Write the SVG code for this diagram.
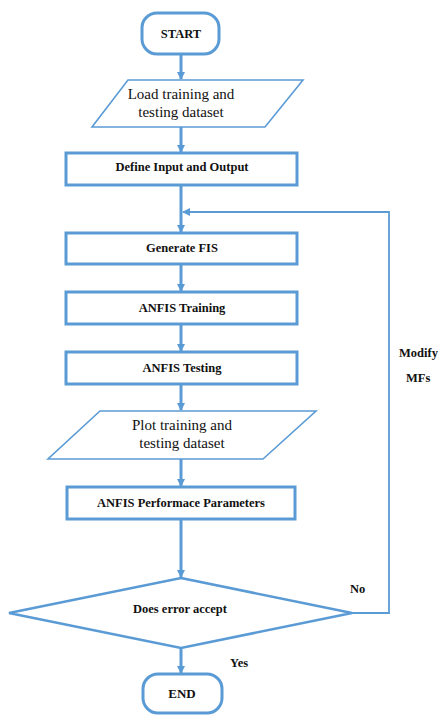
<svg xmlns="http://www.w3.org/2000/svg" width="447" height="715" viewBox="0 0 447 715">
  <style>
    .box { fill: #ffffff; stroke: #5b9bd5; stroke-width: 3; }
    .io { fill: #ffffff; stroke: #5b9bd5; stroke-width: 1.6; }
    .term { fill: #ffffff; stroke: #5b9bd5; stroke-width: 3; }
    .dec { fill: #ffffff; stroke: #5b9bd5; stroke-width: 2.5; }
    .flow { fill: none; stroke: #5b9bd5; stroke-width: 3; }
    .thin { fill: none; stroke: #5b9bd5; stroke-width: 1.8; }
    text { font-family: 'Liberation Serif', 'DejaVu Serif', 'Times New Roman', serif; fill: #111111; text-anchor: middle; }
    .lbl { font-size: 12.5px; font-weight: bold; }
    .side { font-size: 12.5px; font-weight: bold; text-anchor: start; }
    .reg { font-size: 15px; }
  </style>
  <defs>
    <marker id="arrow" markerWidth="8" markerHeight="8" refX="7" refY="4" orient="auto" markerUnits="userSpaceOnUse">
      <path d="M0,0 L8,4 L0,8 z" fill="#5b9bd5"/>
    </marker>
  </defs>

  <rect width="447" height="715" fill="#ffffff"/>

  <!-- connectors -->
  <g id="connectors">
    <line class="flow" x1="181" y1="54" x2="181" y2="79" marker-end="url(#arrow)"/>
    <line class="flow" x1="181" y1="127" x2="181" y2="152" marker-end="url(#arrow)"/>
    <line class="flow" x1="181" y1="185" x2="181" y2="232" marker-end="url(#arrow)"/>
    <line class="flow" x1="181" y1="264" x2="181" y2="291" marker-end="url(#arrow)"/>
    <line class="flow" x1="181" y1="324" x2="181" y2="351" marker-end="url(#arrow)"/>
    <line class="flow" x1="181" y1="384" x2="181" y2="410" marker-end="url(#arrow)"/>
    <line class="flow" x1="181" y1="459" x2="181" y2="486" marker-end="url(#arrow)"/>
    <line class="flow" x1="181" y1="519" x2="181" y2="577" marker-end="url(#arrow)"/>
    <line class="flow" x1="181" y1="648" x2="181" y2="673" marker-end="url(#arrow)"/>
    <!-- loop back: No branch -->
    <polyline class="thin" points="352,613 389,613 389,212 183,212" marker-end="url(#arrow)"/>
    <text class="side" x="350" y="593">No</text>
    <text class="side" x="230" y="667">Yes</text>
    <text class="side" x="399" y="357">Modify</text>
    <text class="side" x="406" y="382">MFs</text>
  </g>

  <g id="start">
    <rect class="term" x="142" y="13" width="77" height="41" rx="15" ry="15"/>
    <text class="lbl" x="181" y="38">START</text>
  </g>

  <g id="load-data">
    <polygon class="io" points="128,80 303,80 265,127 92,127"/>
    <text class="reg" x="181" y="99">Load training and</text>
    <text class="reg" x="181" y="117">testing dataset</text>
  </g>

  <g id="define-io">
    <rect class="box" x="66" y="153" width="231" height="32"/>
    <text class="lbl" x="182" y="171">Define Input and Output</text>
  </g>

  <g id="generate-fis">
    <rect class="box" x="66" y="233" width="231" height="31"/>
    <text class="lbl" x="182" y="252">Generate FIS</text>
  </g>

  <g id="anfis-training">
    <rect class="box" x="66" y="292" width="231" height="32"/>
    <text class="lbl" x="182" y="312">ANFIS Training</text>
  </g>

  <g id="anfis-testing">
    <rect class="box" x="66" y="352" width="231" height="32"/>
    <text class="lbl" x="182" y="372">ANFIS Testing</text>
  </g>

  <g id="plot-data">
    <polygon class="io" points="100,411 316,411 263,459 48,459"/>
    <text class="reg" x="182" y="430">Plot training and</text>
    <text class="reg" x="182" y="448">testing dataset</text>
  </g>

  <g id="performance">
    <rect class="box" x="67" y="487" width="228" height="32"/>
    <text class="lbl" x="181" y="507">ANFIS Performace Parameters</text>
  </g>

  <g id="decision">
    <polygon class="dec" points="181,578 352,613 181,648 9,613"/>
    <text class="lbl" x="180" y="613">Does error accept</text>
  </g>

  <g id="end">
    <rect class="term" x="143" y="674" width="79" height="39" rx="15" ry="15"/>
    <text class="lbl" x="182" y="698" style="font-size:13px">END</text>
  </g>
</svg>
